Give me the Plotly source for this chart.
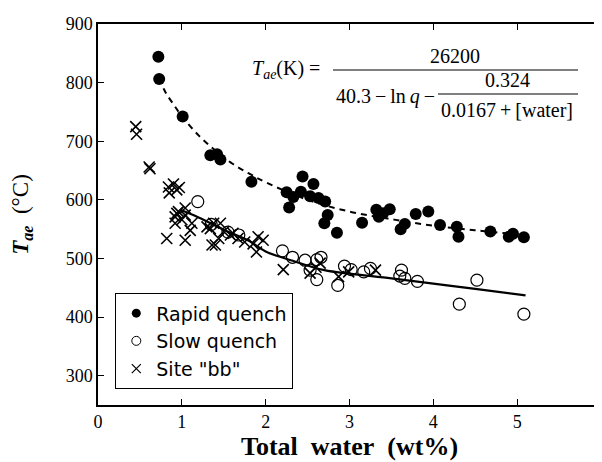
import plotly.graph_objects as go

# ---- data ----
rapid_x = [0.72, 0.73, 1.01, 1.34, 1.42, 1.46, 1.83, 2.25, 2.28, 2.33, 2.42, 2.44, 2.53, 2.57,
           2.63, 2.71, 2.70, 2.74, 2.85, 3.15, 3.32, 3.35, 3.40, 3.48, 3.61, 3.66, 3.79, 3.94,
           4.08, 4.28, 4.30, 4.68, 4.90, 4.95, 5.08]
rapid_y = [844, 806, 742, 676, 678, 669, 631, 613, 587, 605, 614, 640, 606, 627,
           603, 597, 560, 574, 544, 561, 583, 571, 577, 584, 550, 559, 576, 580,
           557, 554, 537, 546, 537, 542, 536]

slow_x = [1.19, 1.35, 1.55, 1.68, 2.20, 2.32, 2.47, 2.53, 2.61, 2.61, 2.66, 2.86, 2.94, 3.02,
          3.17, 3.25, 3.60, 3.62, 3.66, 3.81, 4.31, 4.52, 5.08]
slow_y = [597, 558, 545, 540, 513, 502, 497, 480, 498, 464, 502, 454, 487, 481,
          477, 483, 470, 480, 466, 461, 422, 463, 405]

site_x = [0.45, 0.46, 0.61, 0.62, 0.84, 0.85, 0.90, 0.94, 0.97, 0.82, 0.92, 0.94, 0.96, 1.00,
          1.04, 1.04, 0.92, 1.10, 1.12, 1.04, 1.30, 1.34, 1.38, 1.36, 1.40, 1.44, 1.46, 1.50,
          1.58, 1.61, 1.67, 1.75, 1.85, 1.89, 1.91, 1.97, 2.21, 2.53, 2.60, 2.65, 2.87, 2.99, 3.31]
site_y = [725, 712, 656, 653, 622, 612, 627, 617, 621, 534, 571, 577, 580, 566,
          574, 586, 560, 548, 560, 531, 554, 551, 560, 523, 523, 534, 560, 546,
          540, 543, 534, 528, 525, 511, 537, 531, 481, 475, 485, 492, 469, 477, 480]

# fitted curves
dash_x = [0.73, 0.80, 0.90, 1.00, 1.20, 1.40, 1.60, 1.80, 2.00, 2.50, 3.00, 3.50, 4.00, 4.50, 5.00]
dash_y = [808, 785, 763, 743, 710, 684, 662, 645, 630, 600, 580, 567, 556, 548, 541]

solid_x = [0.98, 1.20, 1.50, 1.80, 2.00, 2.30, 2.70, 3.00, 3.50, 4.00, 4.50, 5.10]
solid_y = [583, 570, 549, 530, 512, 497, 480, 474, 466, 457, 448, 437]

x_ticks = [0, 1, 2, 3, 4, 5, 6]
y_ticks = [300, 400, 500, 600, 700, 800, 900]

legend_names = ["Rapid quench", "Slow quench", 'Site "bb"']

# ---- figure ----
fig = go.Figure()

fig.add_trace(go.Scatter(x=dash_x, y=dash_y, mode="lines", showlegend=False,
                         line=dict(color="black", width=2, dash="6px,5px", shape="spline")))
fig.add_trace(go.Scatter(x=solid_x, y=solid_y, mode="lines", showlegend=False,
                         line=dict(color="black", width=2.2, shape="spline")))

fig.add_trace(go.Scatter(x=site_x, y=site_y, mode="markers", showlegend=False,
                         marker=dict(symbol="x-thin-open", size=11, color="black",
                                     line=dict(color="black", width=1.6))))
fig.add_trace(go.Scatter(x=slow_x, y=slow_y, mode="markers", showlegend=False,
                         marker=dict(symbol="circle-open", size=12, color="black",
                                     line=dict(color="black", width=1.2))))
fig.add_trace(go.Scatter(x=rapid_x, y=rapid_y, mode="markers", showlegend=False,
                         marker=dict(symbol="circle", size=12, color="black")))

# legend-only traces with smaller symbols
fig.add_trace(go.Scatter(x=[None], y=[None], mode="markers", name=legend_names[0],
                         marker=dict(symbol="circle", size=9, color="black")))
fig.add_trace(go.Scatter(x=[None], y=[None], mode="markers", name=legend_names[1],
                         marker=dict(symbol="circle-open", size=9, color="black",
                                     line=dict(color="black", width=1))))
fig.add_trace(go.Scatter(x=[None], y=[None], mode="markers", name=legend_names[2],
                         marker=dict(symbol="x-thin-open", size=9, color="black",
                                     line=dict(color="black", width=1.2))))

# the page body has an 8px margin, so the figure is sized to fit inside it
OFF = 8
W, H = 602 - OFF, 462 - OFF
# plot area in reference pixels: x 98..601, y 24..405
L, R, T, B = 98, 601, 24, 405
ml, mr, mt, mb = L - OFF, (W + OFF) - R, T - OFF, (H + OFF) - B
pw, ph = R - L, B - T


def px(xp):
    return (xp - L) / pw


def py(yp):
    return (B - yp) / ph


serif = "Liberation Serif"
eq_font = dict(family=serif, size=20, color="black")

annotations = [
    dict(x=px(250), y=py(70), xref="paper", yref="paper", xanchor="left", yanchor="middle",
         text="<i>T</i><sub><i>ae</i></sub>(K) =", showarrow=False, font=eq_font),
    dict(x=px(455), y=py(56), xref="paper", yref="paper", xanchor="center", yanchor="middle",
         text="26200", showarrow=False, font=eq_font),
    dict(x=px(334), y=py(97), xref="paper", yref="paper", xanchor="left", yanchor="middle",
         text="40.3\u2009−\u2009ln\u2009<i>q</i>\u2009−", showarrow=False, font=eq_font),
    dict(x=px(507), y=py(80), xref="paper", yref="paper", xanchor="center", yanchor="middle",
         text="0.324", showarrow=False, font=eq_font),
    dict(x=px(507), y=py(110), xref="paper", yref="paper", xanchor="center", yanchor="middle",
         text="0.0167\u2009+\u2009[water]", showarrow=False, font=eq_font),
]

shapes = [
    dict(type="line", xref="paper", yref="paper", x0=px(333), x1=px(578), y0=py(70), y1=py(70),
         line=dict(color="black", width=1.2)),
    dict(type="line", xref="paper", yref="paper", x0=px(438), x1=px(578), y0=py(94), y1=py(94),
         line=dict(color="black", width=1.2)),
]

axis_common = dict(showline=True, linecolor="black", linewidth=1.5, mirror="ticks",
                   ticks="inside", ticklen=6, tickwidth=1.3, tickcolor="black",
                   showgrid=False, zeroline=False, automargin=False,
                   ticklabeloverflow="allow",
                   tickfont=dict(family=serif, size=18, color="black"))

fig.update_layout(
    width=W, height=H,
    margin=dict(l=ml, r=mr, t=mt, b=mb),
    paper_bgcolor="white", plot_bgcolor="white",
    xaxis=dict(range=[0, 6], tickvals=x_ticks, ticktext=[str(v) for v in x_ticks],
               title=dict(text="<b>Total\u2002water\u2002(wt%)</b>",
                          font=dict(family=serif, size=26, color="black"), standoff=0),
               **axis_common),
    yaxis=dict(range=[250, 900], tickvals=y_ticks, ticktext=[str(v) for v in y_ticks],
               title=dict(text="<b><i>T</i></b><sub><b><i>ae</i></b></sub>  (°C)",
                          font=dict(family=serif, size=23, color="black"), standoff=32),
               **axis_common),
    legend=dict(x=px(115), y=py(293), xanchor="left", yanchor="top",
                bordercolor="black", borderwidth=1.3, bgcolor="white",
                font=dict(family="DejaVu Sans", size=19, color="black"),
                tracegroupgap=0, itemwidth=30),
    annotations=annotations,
    shapes=shapes,
    showlegend=True,
)

fig.write_html("out.html")
